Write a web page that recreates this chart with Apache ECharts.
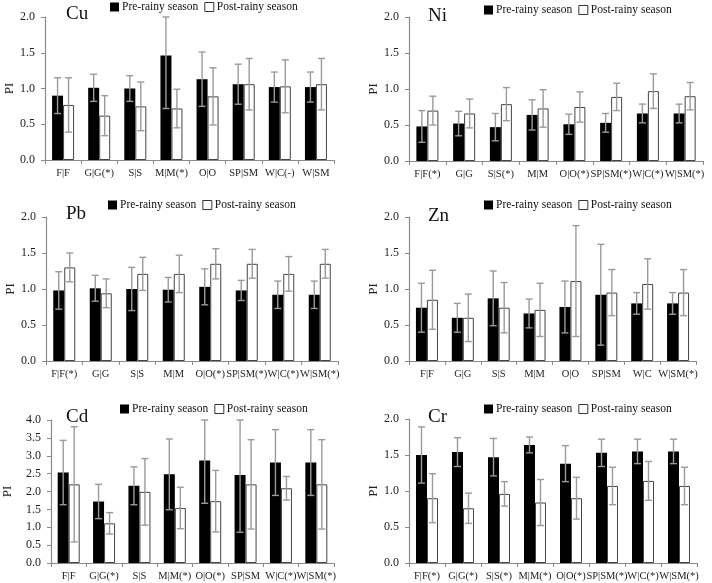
<!DOCTYPE html>
<html>
<head>
<meta charset="utf-8">
<script src="https://cdn.jsdelivr.net/npm/echarts@6/dist/echarts.min.js"></script>
<style>
html,body{margin:0;padding:0;background:#fff;}
#chart{width:712px;height:583px;}
</style>
</head>
<body>
<div id="chart"></div>
<script>
// ---- Data ----
const cuCategories = ['F|F','G|G(*)','S|S','M|M(*)','O|O','SP|SM','W|C(-)','W|SM'];
const niCategories = ['F|F(*)','G|G','S|S(*)','M|M','O|O(*)','SP|SM(*)','W|C(*)','W|SM(*)'];
const pbCategories = ['F|F(*)','G|G','S|S','M|M','O|O(*)','SP|SM(*)','W|C(*)','W|SM(*)'];
const znCategories = ['F|F','G|G','S|S','M|M','O|O','SP|SM','W|C','W|SM(*)'];
const cdCategories = ['F|F','G|G(*)','S|S','M|M(*)','O|O(*)','SP|SM','W|C(*)','W|SM(*)'];
const crCategories = ['F|F(*)','G|G(*)','S|S(*)','M|M(*)','O|O(*)','SP|SM(*)','W|C(*)','W|SM(*)'];

const cuPre = [0.90,1.01,1.00,1.46,1.13,1.06,1.02,1.02];
const cuPreErr = [0.25,0.19,0.18,0.74,0.38,0.28,0.21,0.21];
const cuPost = [0.77,0.62,0.75,0.72,0.89,1.06,1.03,1.06];
const cuPostErr = [0.38,0.28,0.34,0.27,0.40,0.36,0.37,0.36];

const niPre = [0.48,0.52,0.47,0.64,0.51,0.53,0.66,0.66];
const niPreErr = [0.22,0.17,0.19,0.21,0.14,0.13,0.13,0.13];
const niPost = [0.70,0.66,0.79,0.73,0.75,0.89,0.97,0.90];
const niPostErr = [0.20,0.20,0.23,0.26,0.21,0.19,0.24,0.19];

const pbPre = [0.98,1.01,1.00,0.99,1.03,0.98,0.92,0.92];
const pbPreErr = [0.26,0.18,0.30,0.17,0.25,0.14,0.19,0.19];
const pbPost = [1.30,0.94,1.21,1.21,1.35,1.35,1.21,1.35];
const pbPostErr = [0.20,0.20,0.23,0.26,0.21,0.20,0.24,0.20];

const znPre = [0.74,0.60,0.87,0.66,0.75,0.92,0.80,0.80];
const znPreErr = [0.34,0.20,0.38,0.20,0.36,0.70,0.15,0.15];
const znPost = [0.85,0.60,0.74,0.71,1.11,0.95,1.07,0.95];
const znPostErr = [0.41,0.33,0.35,0.37,0.77,0.32,0.35,0.32];

const cdPre = [2.53,1.72,2.16,2.48,2.87,2.46,2.81,2.81];
const cdPreErr = [0.90,0.48,0.53,0.99,1.20,1.60,0.92,0.92];
const cdPost = [2.20,1.11,1.99,1.54,1.73,2.20,2.09,2.20];
const cdPostErr = [1.61,0.30,0.93,0.58,0.86,1.25,0.33,1.25];

const crPre = [1.50,1.54,1.47,1.64,1.38,1.53,1.55,1.55];
const crPreErr = [0.39,0.20,0.26,0.11,0.25,0.19,0.17,0.17];
const crPost = [0.90,0.76,0.96,0.84,0.90,1.07,1.14,1.07];
const crPostErr = [0.34,0.21,0.17,0.32,0.29,0.26,0.27,0.26];

const seriesNames = ['Pre-rainy season','Post-rainy season'];
const yAxisName = 'PI';

// ---- Layout ----
const FONT = '"Liberation Serif","Times New Roman",serif';
const BAR_W = 11;
const panels = [
  {name:'Cu', cats:cuCategories, pre:cuPre, preErr:cuPreErr, post:cuPost, postErr:cuPostErr, max:2,
   grid:{left:45, top:17, width:289, height:143}, title:{left:66, top:5}, legend:{left:110, top:1}, nameGap:27},
  {name:'Ni', cats:niCategories, pre:niPre, preErr:niPreErr, post:niPost, postErr:niPostErr, max:2,
   grid:{left:409, top:17, width:294, height:144}, title:{left:428, top:7}, legend:{left:484, top:4}, nameGap:28},
  {name:'Pb', cats:pbCategories, pre:pbPre, preErr:pbPreErr, post:pbPost, postErr:pbPostErr, max:2,
   grid:{left:46, top:217, width:292, height:144}, title:{left:66, top:205}, legend:{left:108, top:199}, nameGap:28},
  {name:'Zn', cats:znCategories, pre:znPre, preErr:znPreErr, post:znPost, postErr:znPostErr, max:2,
   grid:{left:409, top:217, width:287, height:144}, title:{left:428, top:207}, legend:{left:484, top:199}, nameGap:28},
  {name:'Cd', cats:cdCategories, pre:cdPre, preErr:cdPreErr, post:cdPost, postErr:cdPostErr, max:4,
   grid:{left:46, top:420, width:288, height:143}, title:{left:66, top:408}, legend:{left:120, top:403}, nameGap:37},
  {name:'Cr', cats:crCategories, pre:crPre, preErr:crPreErr, post:crPost, postErr:crPostErr, max:2,
   grid:{left:409, top:419, width:288, height:144}, title:{left:428, top:408}, legend:{left:484, top:403}, nameGap:27}
];

const grid = [], xAxis = [], yAxis = [], series = [], title = [], legend = [];

function errRenderer(side, max){
  return function(params, api){
    const i = api.value(0), v = api.value(1), e = api.value(2);
    const hi = api.coord([i, Math.min(v + e, max)]);
    const lo = api.coord([i, Math.max(v - e, 0)]);
    const cx = hi[0] + side * BAR_W / 2;
    const cap = 3.5;
    const st = {stroke:'#9a9a9a', lineWidth:1.4};
    return {type:'group', children:[
      {type:'line', shape:{x1:cx, y1:hi[1], x2:cx, y2:lo[1]}, style:st},
      {type:'line', shape:{x1:cx-cap, y1:hi[1], x2:cx+cap, y2:hi[1]}, style:st},
      {type:'line', shape:{x1:cx-cap, y1:lo[1], x2:cx+cap, y2:lo[1]}, style:st}
    ]};
  };
}

panels.forEach((p, k) => {
  grid.push(Object.assign({containLabel:false}, p.grid));
  xAxis.push({
    type:'category', gridIndex:k, data:p.cats,
    axisLine:{lineStyle:{color:'#8a8a8a', width:1.2}},
    axisTick:{show:true, length:4, lineStyle:{color:'#8a8a8a'}},
    axisLabel:{fontFamily:FONT, fontSize:10.5, color:'#222', margin:8, interval:0}
  });
  yAxis.push({
    type:'value', gridIndex:k, min:0, max:p.max, interval:0.5,
    name:yAxisName, nameLocation:'middle', nameGap:p.nameGap, nameRotate:90,
    nameTextStyle:{fontFamily:FONT, fontSize:13, color:'#222'},
    axisLine:{show:true, lineStyle:{color:'#8a8a8a', width:1.2}},
    axisTick:{show:true, length:4, lineStyle:{color:'#8a8a8a'}},
    splitLine:{show:false},
    axisLabel:{fontFamily:FONT, fontSize:12, color:'#222', margin:10, formatter:v => v.toFixed(1)}
  });
  series.push({
    name:seriesNames[0], type:'bar', xAxisIndex:k, yAxisIndex:k, data:p.pre,
    barWidth:BAR_W, barGap:'0%', itemStyle:{color:'#000'}, silent:true
  });
  series.push({
    name:seriesNames[1], type:'bar', xAxisIndex:k, yAxisIndex:k, data:p.post,
    barWidth:BAR_W, barGap:'0%', itemStyle:{color:'#fff', borderColor:'#444', borderWidth:1}, silent:true
  });
  series.push({
    type:'custom', xAxisIndex:k, yAxisIndex:k, z:5, silent:true,
    data:p.pre.map((v, i) => [i, v, p.preErr[i]]),
    encode:{x:0, y:1}, renderItem:errRenderer(-1, p.max)
  });
  series.push({
    type:'custom', xAxisIndex:k, yAxisIndex:k, z:5, silent:true,
    data:p.post.map((v, i) => [i, v, p.postErr[i]]),
    encode:{x:0, y:1}, renderItem:errRenderer(1, p.max)
  });
  title.push({text:p.name, left:p.title.left, top:p.title.top, padding:0,
    textStyle:{fontFamily:FONT, fontSize:19, fontWeight:'normal', color:'#111'}});
  legend.push({
    data:[
      {name:seriesNames[0], icon:'rect', itemStyle:{color:'#000', borderWidth:0}},
      {name:seriesNames[1], icon:'rect', itemStyle:{color:'#fff', borderColor:'#333', borderWidth:1}}
    ],
    left:p.legend.left, top:p.legend.top, padding:0, itemGap:6, itemWidth:9, itemHeight:9,
    selectedMode:false,
    textStyle:{fontFamily:FONT, fontSize:11.5, color:'#111', padding:[0,0,0,-2]}
  });
});

const chart = echarts.init(document.getElementById('chart'), null, {renderer:'canvas'});
chart.setOption({
  backgroundColor:'#fff', animation:false,
  grid, xAxis, yAxis, series, title, legend
});
</script>
</body>
</html>
